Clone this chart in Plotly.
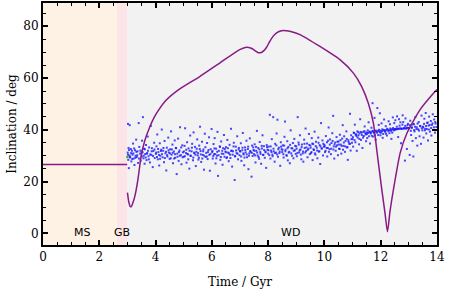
import plotly.graph_objects as go

# ---- data -------------------------------------------------------------
# Evolution phases (Gyr)
phase_names = ["MS", "GB", "WD"]
phase_start = [0.0, 2.63, 3.0]
phase_end = [2.63, 3.0, 14.0]
phase_colors = ["#fef2e5", "#fde5e7", "#f2f2f2"]
label_time = [1.4, 2.82, 8.8]
label_incl = [0.4, 0.4, 0.4]

# Main-sequence / giant-branch inclination (flat)
ms_time = [0.0, 2.99]
ms_incl = [26.6, 26.6]

# White-dwarf-phase inclination curve
wd_time = [3.00, 3.05, 3.10, 3.14, 3.20, 3.26, 3.37, 3.49, 3.61, 3.79, 3.95,
           4.10, 4.38, 4.86, 5.57, 6.28, 6.99, 7.23, 7.40, 7.53, 7.65, 7.76,
           7.85, 7.94, 8.05, 8.18, 8.30, 8.48, 8.65, 8.80, 9.13, 9.84, 10.55,
           11.03, 11.32, 11.56, 11.74, 11.86, 12.04, 12.15, 12.24, 12.33,
           12.45, 12.69, 12.93, 13.40, 13.93, 14.00]
wd_incl = [15.7, 12.0, 10.4, 10.3, 12.0, 14.2, 20.6, 30.0, 35.6, 41.0, 44.8,
           47.5, 51.5, 55.8, 60.6, 65.8, 71.0, 71.9, 71.5, 70.6, 69.8, 69.9,
           70.6, 71.8, 74.0, 76.2, 77.5, 78.3, 78.3, 78.0, 76.8, 72.2, 67.1,
           61.9, 56.8, 50.3, 42.6, 32.2, 16.8, 8.0, 0.6, 8.5,
           16.8, 31.0, 38.7, 47.8, 54.8, 55.6]

# Scattered planet inclinations (time, inclination) - outer spread
scatter_points = [
    (3.01, 31.2), (3.02, 42.3), (3.03, 28.4), (3.04, 33.0), (3.05, 25.2), (3.07, 30.1), (3.08, 41.8),
    (3.10, 29.3), (3.12, 32.6), (3.14, 27.8), (3.16, 31.9), (3.18, 30.4), (3.20, 34.7), (3.22, 28.9),
    (3.25, 26.4), (3.27, 32.1), (3.29, 30.0), (3.31, 36.2), (3.33, 29.5), (3.36, 31.7), (3.38, 27.2),
    (3.40, 42.6), (3.42, 33.4), (3.45, 30.8), (3.47, 28.1),
    (3.50, 31.5), (3.52, 35.8), (3.55, 44.9), (3.57, 29.0), (3.59, 32.7), (3.61, 26.9), (3.63, 30.6),
    (3.66, 34.1), (3.68, 28.3), (3.70, 31.0), (3.72, 37.4), (3.75, 29.8), (3.77, 33.2), (3.80, 27.4),
    (3.83, 41.5), (3.85, 30.3), (3.87, 32.9), (3.90, 25.6), (3.92, 31.8), (3.95, 35.0), (3.97, 29.1),
    (4.01, 30.7), (4.03, 33.6), (4.06, 38.2), (4.08, 28.6), (4.10, 31.4), (4.13, 26.2), (4.15, 34.8),
    (4.17, 30.0), (4.20, 32.3), (4.22, 40.1), (4.25, 29.4), (4.27, 31.9), (4.30, 27.5), (4.32, 35.7),
    (4.35, 30.9), (4.38, 24.3), (4.40, 33.1), (4.42, 29.7), (4.45, 37.0), (4.47, 31.2),
    (4.50, 28.8), (4.52, 32.5), (4.55, 39.4), (4.57, 30.4), (4.60, 34.3), (4.62, 27.1), (4.65, 31.6),
    (4.68, 35.9), (4.70, 29.2), (4.72, 33.0), (4.75, 22.9), (4.77, 30.8), (4.80, 36.6), (4.82, 28.0),
    (4.85, 32.0), (4.87, 41.0), (4.90, 30.2), (4.92, 26.7), (4.95, 34.0), (4.97, 31.3),
    (5.00, 29.6), (5.03, 33.8), (5.05, 40.6), (5.08, 31.0), (5.10, 27.3), (5.12, 35.2), (5.15, 30.5),
    (5.17, 32.8), (5.20, 25.0), (5.23, 37.8), (5.25, 29.9), (5.28, 31.7), (5.30, 34.6), (5.33, 28.2),
    (5.35, 39.0), (5.38, 30.9), (5.40, 33.4), (5.43, 26.0), (5.45, 31.5), (5.48, 36.3),
    (5.50, 30.1), (5.52, 28.5), (5.55, 33.9), (5.58, 41.2), (5.60, 31.8), (5.62, 27.6), (5.65, 35.4),
    (5.68, 30.3), (5.70, 32.4), (5.72, 24.6), (5.75, 38.5), (5.78, 29.5), (5.80, 31.1), (5.83, 34.9),
    (5.85, 28.7), (5.88, 32.2), (5.90, 37.1), (5.93, 24.2), (5.95, 30.7), (5.99, 40.3),
    (6.01, 31.4), (6.03, 28.9), (6.06, 34.5), (6.08, 30.6), (6.10, 36.8), (6.13, 27.0), (6.15, 32.7),
    (6.18, 30.0), (6.20, 39.2), (6.22, 22.2), (6.25, 31.9), (6.28, 33.6), (6.30, 28.4), (6.33, 35.5),
    (6.35, 30.8), (6.38, 26.5), (6.40, 32.9), (6.43, 38.0), (6.45, 29.6), (6.48, 31.6),
    (6.50, 33.3), (6.52, 29.1), (6.55, 36.1), (6.58, 31.2), (6.60, 27.9), (6.63, 34.2), (6.65, 30.4),
    (6.68, 40.4), (6.70, 32.0), (6.72, 25.8), (6.75, 31.7), (6.78, 35.0), (6.81, 20.6), (6.83, 29.8),
    (6.85, 33.5), (6.88, 31.0), (6.90, 37.5), (6.93, 28.6), (6.95, 32.4), (6.98, 30.2),
    (7.00, 31.8), (7.03, 34.8), (7.05, 28.0), (7.08, 32.1), (7.10, 38.8), (7.13, 30.5), (7.15, 26.3),
    (7.18, 33.2), (7.20, 31.3), (7.23, 35.8), (7.25, 29.4), (7.28, 32.6), (7.30, 24.8), (7.33, 30.9),
    (7.35, 36.7), (7.38, 31.5), (7.41, 21.9), (7.43, 33.9), (7.45, 29.9), (7.48, 32.2),
    (7.50, 30.6), (7.52, 34.4), (7.55, 27.4), (7.58, 31.9), (7.60, 39.6), (7.63, 30.1), (7.65, 33.0),
    (7.68, 28.8), (7.70, 35.3), (7.72, 31.4), (7.75, 26.9), (7.78, 32.8), (7.80, 37.9), (7.83, 30.3),
    (7.85, 33.7), (7.88, 29.2), (7.90, 31.6), (7.93, 25.3), (7.95, 34.1), (7.98, 32.3),
    (8.00, 30.8), (8.02, 33.5), (8.06, 45.8), (8.08, 28.9), (8.10, 32.0), (8.13, 36.4), (8.15, 30.4),
    (8.18, 44.9), (8.20, 31.7), (8.23, 27.7), (8.25, 34.6), (8.28, 31.2), (8.30, 38.6), (8.33, 43.9),
    (8.35, 29.6), (8.38, 33.1), (8.40, 31.0), (8.43, 26.1), (8.45, 35.2), (8.48, 32.5),
    (8.50, 31.4), (8.52, 34.0), (8.55, 29.3), (8.58, 37.3), (8.60, 43.2), (8.62, 32.3), (8.65, 30.2),
    (8.68, 35.6), (8.70, 28.2), (8.72, 33.4), (8.75, 31.5), (8.77, 27.1), (8.80, 39.8), (8.83, 32.9),
    (8.85, 30.0), (8.88, 34.9), (8.90, 29.0), (8.93, 36.5), (8.95, 32.1), (8.98, 30.7),
    (9.00, 33.6), (9.02, 29.8), (9.05, 44.9), (9.08, 35.1), (9.10, 31.3), (9.13, 37.9), (9.15, 32.4),
    (9.18, 28.6), (9.20, 34.3), (9.23, 30.9), (9.25, 27.7), (9.28, 36.2), (9.30, 33.0), (9.33, 40.5),
    (9.35, 31.8), (9.38, 34.7), (9.40, 29.4), (9.43, 32.7), (9.45, 38.4), (9.48, 30.6),
    (9.50, 33.9), (9.52, 31.0), (9.55, 36.8), (9.58, 28.3), (9.60, 34.5), (9.63, 32.2), (9.65, 39.3),
    (9.68, 30.4), (9.70, 35.4), (9.73, 33.1), (9.75, 29.0), (9.78, 37.0), (9.80, 31.6), (9.83, 34.1),
    (9.85, 26.8), (9.88, 42.6), (9.90, 32.8), (9.93, 35.9), (9.95, 30.1), (9.98, 33.5),
    (10.00, 34.2), (10.02, 31.4), (10.05, 37.6), (10.08, 33.0), (10.10, 29.7), (10.13, 35.8), (10.15, 40.9),
    (10.18, 32.5), (10.20, 36.3), (10.23, 30.6), (10.25, 34.9), (10.28, 38.7), (10.31, 45.4), (10.33, 33.6),
    (10.35, 28.9), (10.38, 35.1), (10.40, 31.9), (10.43, 37.2), (10.45, 34.0), (10.48, 30.2),
    (10.50, 35.5), (10.52, 32.7), (10.55, 38.1), (10.58, 34.3), (10.60, 30.8), (10.63, 36.6), (10.65, 41.8),
    (10.68, 33.8), (10.70, 37.5), (10.73, 31.5), (10.75, 35.7), (10.78, 39.4), (10.80, 33.2), (10.83, 28.4),
    (10.85, 36.0), (10.88, 34.6), (10.91, 46.2), (10.93, 32.0), (10.95, 37.9), (10.98, 35.0),
    (11.00, 36.4), (11.02, 33.5), (11.05, 38.8), (11.08, 42.0), (11.10, 35.2), (11.12, 38.3), (11.15, 31.9),
    (11.18, 37.0), (11.20, 39.1), (11.23, 34.4), (11.25, 38.6), (11.27, 44.1), (11.30, 36.1), (11.32, 38.9),
    (11.35, 33.0), (11.38, 39.2), (11.40, 37.6), (11.43, 41.3), (11.45, 38.7), (11.48, 35.6),
    (11.50, 39.0), (11.52, 36.8), (11.55, 38.8), (11.57, 42.9), (11.60, 39.3), (11.62, 34.7), (11.65, 38.9),
    (11.67, 40.8), (11.70, 39.4), (11.71, 50.3), (11.73, 37.4), (11.75, 39.1), (11.78, 44.6), (11.80, 39.5),
    (11.82, 36.2), (11.85, 39.2), (11.88, 48.4), (11.90, 39.6), (11.93, 41.9), (11.95, 39.3), (11.97, 46.4),
    (11.99, 37.9),
    (12.00, 39.7), (12.03, 42.5), (12.05, 39.5), (12.07, 36.9), (12.10, 39.8), (12.12, 44.0), (12.15, 39.6),
    (12.18, 41.4), (12.20, 39.9), (12.22, 37.8), (12.25, 40.1), (12.28, 43.3), (12.30, 39.8), (12.33, 42.2),
    (12.35, 40.0), (12.38, 36.5), (12.40, 40.2), (12.43, 44.8), (12.45, 40.1), (12.48, 42.6),
    (12.50, 40.3), (12.52, 43.7), (12.55, 40.2), (12.58, 45.2), (12.60, 40.4), (12.62, 37.2), (12.65, 44.1),
    (12.68, 40.5), (12.70, 42.9), (12.72, 34.8), (12.75, 40.4), (12.78, 45.6), (12.80, 43.0), (12.83, 40.6),
    (12.86, 28.1), (12.88, 44.4), (12.90, 40.5), (12.93, 32.6), (12.95, 41.8), (12.98, 40.7),
    (13.00, 40.6), (13.03, 30.3), (13.05, 43.5), (13.08, 38.0), (13.10, 40.8), (13.13, 35.7), (13.16, 29.7),
    (13.18, 42.2), (13.20, 39.4), (13.23, 44.9), (13.25, 36.8), (13.28, 41.0), (13.30, 33.9), (13.33, 40.2),
    (13.35, 43.0), (13.38, 37.5), (13.40, 41.5), (13.43, 34.6), (13.45, 45.5), (13.48, 39.8),
    (13.50, 41.2), (13.52, 37.0), (13.55, 44.3), (13.58, 40.4), (13.60, 46.5), (13.62, 38.6), (13.65, 42.7),
    (13.68, 35.9), (13.70, 41.6), (13.72, 45.1), (13.75, 39.3), (13.78, 43.4), (13.80, 37.8), (13.82, 41.9),
    (13.85, 46.0), (13.88, 40.0), (13.90, 44.0), (13.93, 38.9), (13.95, 42.4), (13.98, 41.1),
]

# Scattered planet inclinations - dense core of the band
scatter_core = [
    (3.02, 30.4), (3.06, 32.2), (3.09, 29.6), (3.13, 31.0), (3.17, 28.7), (3.21, 30.9), (3.24, 32.8),
    (3.28, 29.2), (3.32, 31.5), (3.35, 30.2), (3.41, 28.9), (3.46, 32.0),
    (3.51, 29.7), (3.54, 31.3), (3.58, 30.0), (3.62, 32.5), (3.65, 29.3), (3.69, 30.8), (3.73, 31.9),
    (3.76, 28.6), (3.81, 30.5), (3.86, 31.7), (3.91, 29.9), (3.96, 32.4),
    (4.02, 31.2), (4.05, 29.5), (4.09, 32.6), (4.12, 30.3), (4.16, 28.8), (4.19, 31.8), (4.23, 30.6),
    (4.28, 33.0), (4.33, 29.1), (4.37, 31.5), (4.41, 30.2), (4.46, 32.1),
    (4.51, 30.9), (4.54, 29.0), (4.58, 32.4), (4.61, 31.1), (4.66, 28.9), (4.69, 30.6), (4.73, 32.9),
    (4.78, 29.6), (4.83, 31.4), (4.86, 30.0), (4.91, 33.2), (4.96, 29.4),
    (5.01, 31.6), (5.04, 29.8), (5.09, 32.3), (5.13, 30.7), (5.16, 28.6), (5.21, 31.9), (5.24, 30.1),
    (5.29, 33.1), (5.34, 29.3), (5.37, 31.2), (5.42, 30.4), (5.46, 32.7),
    (5.51, 31.0), (5.54, 29.2), (5.57, 32.6), (5.61, 30.5), (5.66, 28.9), (5.69, 31.7), (5.73, 30.0),
    (5.77, 33.3), (5.82, 29.7), (5.86, 31.4), (5.91, 30.3), (5.96, 32.5),
    (6.02, 31.8), (6.05, 29.9), (6.09, 32.8), (6.12, 30.6), (6.16, 29.0), (6.19, 31.5), (6.24, 30.2),
    (6.29, 33.4), (6.32, 29.5), (6.37, 31.9), (6.41, 30.7), (6.46, 32.6),
    (6.51, 31.3), (6.54, 29.4), (6.57, 32.9), (6.61, 30.9), (6.66, 29.1), (6.69, 31.8), (6.74, 30.4),
    (6.77, 33.6), (6.82, 29.8), (6.86, 32.0), (6.91, 30.8), (6.96, 33.0),
    (7.01, 31.6), (7.04, 29.7), (7.09, 33.1), (7.12, 30.9), (7.16, 29.3), (7.19, 32.2), (7.24, 30.5),
    (7.29, 33.5), (7.32, 30.0), (7.36, 31.8), (7.42, 31.1), (7.47, 33.2),
    (7.51, 31.9), (7.54, 30.1), (7.57, 33.4), (7.61, 31.2), (7.66, 29.5), (7.69, 32.4), (7.73, 30.7),
    (7.77, 33.8), (7.82, 30.3), (7.86, 32.2), (7.91, 31.3), (7.96, 33.3),
    (8.01, 32.1), (8.04, 30.2), (8.09, 33.6), (8.12, 31.4), (8.16, 29.8), (8.19, 32.7), (8.24, 31.0),
    (8.29, 34.0), (8.32, 30.5), (8.36, 32.5), (8.41, 31.6), (8.46, 33.5),
    (8.51, 32.3), (8.54, 30.6), (8.57, 33.9), (8.61, 31.7), (8.66, 30.0), (8.69, 32.9), (8.73, 31.2),
    (8.78, 34.2), (8.82, 30.9), (8.86, 32.8), (8.91, 31.9), (8.96, 33.8),
    (9.01, 32.7), (9.04, 31.0), (9.09, 34.3), (9.12, 32.1), (9.16, 30.4), (9.19, 33.3), (9.24, 31.6),
    (9.29, 34.6), (9.32, 31.2), (9.36, 33.2), (9.41, 32.3), (9.46, 34.2),
    (9.51, 33.1), (9.54, 31.4), (9.57, 34.7), (9.61, 32.5), (9.66, 30.9), (9.69, 33.7), (9.74, 32.0),
    (9.79, 35.0), (9.82, 31.7), (9.86, 33.6), (9.91, 32.8), (9.96, 34.6),
    (10.01, 33.6), (10.04, 31.9), (10.09, 35.2), (10.12, 33.0), (10.16, 31.5), (10.19, 34.3), (10.24, 32.7),
    (10.29, 35.7), (10.32, 32.4), (10.36, 34.4), (10.41, 33.5), (10.46, 35.4),
    (10.51, 34.3), (10.54, 32.6), (10.57, 36.0), (10.61, 33.8), (10.66, 32.3), (10.69, 35.1), (10.74, 33.6),
    (10.79, 36.5), (10.82, 33.3), (10.86, 35.3), (10.91, 34.6), (10.96, 36.4),
    (11.01, 37.2), (11.04, 38.9), (11.07, 36.0), (11.11, 38.1), (11.14, 37.6), (11.17, 39.4), (11.21, 37.9),
    (11.24, 36.5), (11.29, 39.2), (11.33, 38.0), (11.37, 37.0), (11.42, 39.5), (11.47, 38.2),
    (11.51, 38.4), (11.54, 39.8), (11.58, 37.5), (11.61, 39.2), (11.64, 38.6), (11.68, 37.7), (11.72, 39.6),
    (11.76, 38.8), (11.79, 37.9), (11.83, 39.7), (11.87, 38.9), (11.91, 38.0), (11.94, 40.0), (11.98, 39.0),
    (12.02, 38.9), (12.06, 40.2), (12.09, 38.4), (12.13, 39.9), (12.16, 39.2), (12.19, 38.5), (12.23, 40.4),
    (12.27, 39.5), (12.31, 38.7), (12.34, 40.5), (12.37, 39.6), (12.41, 38.9), (12.44, 40.7), (12.47, 39.8),
    (12.51, 40.1), (12.54, 40.3), (12.57, 41.2), (12.61, 40.3), (12.64, 40.4), (12.67, 41.6), (12.71, 40.5),
    (12.74, 40.4), (12.77, 42.0), (12.81, 40.5), (12.84, 40.6), (12.87, 41.5), (12.91, 40.6), (12.94, 40.8),
    (12.97, 42.3),
    (13.01, 40.7), (13.04, 41.8), (13.07, 39.6), (13.11, 40.9), (13.14, 42.1), (13.19, 39.9), (13.22, 41.2),
    (13.27, 40.3), (13.31, 42.4), (13.36, 39.7), (13.41, 41.4), (13.46, 40.6),
    (13.51, 40.9), (13.54, 42.3), (13.57, 39.8), (13.61, 41.5), (13.64, 40.3), (13.67, 42.8), (13.71, 40.1),
    (13.74, 41.9), (13.79, 40.7), (13.84, 42.5), (13.89, 41.0), (13.94, 43.0),
]
green_time = [3.0]
green_incl = [29.5]

x_ticks = [0, 2, 4, 6, 8, 10, 12, 14]
y_ticks = [0, 20, 40, 60, 80]

# ---- figure -----------------------------------------------------------
fig = go.Figure()

for name, x0, x1, col in zip(phase_names, phase_start, phase_end, phase_colors):
    fig.add_shape(type="rect", xref="x", yref="paper", x0=x0, x1=x1, y0=0, y1=1,
                  fillcolor=col, line_width=0, layer="below")

all_pts = scatter_points + scatter_core
sx = [p[0] for p in all_pts]
sy = [p[1] for p in all_pts]
fig.add_trace(go.Scatter(x=sx, y=sy, mode="markers",
                         marker=dict(symbol="square", size=2.0, color="rgba(25,25,255,0.8)",
                                     line_width=0),
                         hoverinfo="skip"))
fig.add_trace(go.Scatter(x=green_time, y=green_incl, mode="markers",
                         marker=dict(symbol="square", size=2.5, color="#33bb33", line_width=0)))
fig.add_trace(go.Scatter(x=ms_time, y=ms_incl, mode="lines",
                         line=dict(color="#881a86", width=1.6)))
fig.add_trace(go.Scatter(x=wd_time, y=wd_incl, mode="lines",
                         line=dict(color="#881a86", width=1.5, shape="spline", smoothing=0.6)))

for name, tx, ty in zip(phase_names, label_time, label_incl):
    fig.add_annotation(x=tx, y=ty, text=name, showarrow=False,
                       font=dict(family="DejaVu Sans", size=11, color="black"),
                       xanchor="center", yanchor="middle")

axis_common = dict(showline=True, linewidth=2, linecolor="black", mirror="ticks",
                   ticks="inside", ticklen=5, tickwidth=1.5, tickcolor="black",
                   showgrid=False, zeroline=False, automargin=False,
                   tickfont=dict(family="DejaVu Serif", size=12, color="black"))

fig.update_xaxes(range=[0, 14], tickvals=x_ticks,
                 minor=dict(dtick=0.5, ticks="inside", ticklen=3, tickwidth=1.2, tickcolor="black"),
                 title=dict(text="Time / Gyr", font=dict(family="DejaVu Serif", size=12, color="black"),
                            standoff=14),
                 **axis_common)
fig.update_yaxes(range=[-4.5, 89], tickvals=y_ticks,
                 minor=dict(dtick=5, ticks="inside", ticklen=3, tickwidth=1.2, tickcolor="black"),
                 title=dict(text="Inclination / deg", font=dict(family="DejaVu Serif", size=12, color="black"),
                            standoff=4),
                 **axis_common)

fig.update_layout(width=463, height=290, margin=dict(l=43, r=26, t=3, b=45),
                  plot_bgcolor="#f2f2f2", paper_bgcolor="white", showlegend=False)

fig.write_html("out.html", config={"displayModeBar": False},
               post_script="document.body.style.margin='0';")
